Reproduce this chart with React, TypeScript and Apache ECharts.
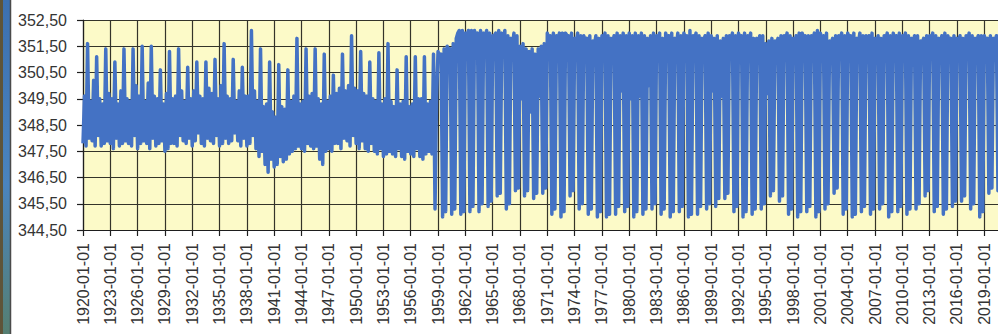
import { useEffect, useRef } from "react";
import * as echarts from "echarts";

// Lake level in m a.s.l., six readings per year (Jan, Mar, May, Jul, Sep, Nov).
const level1920s = [
  347.8, 349.6, 347.7, 351.6, 348.0, 349.4,
  347.9, 350.2, 347.7, 351.1, 348.1, 349.5,
  347.7, 349.3, 347.8, 351.4, 347.9, 349.7,
  347.8, 349.5, 347.6, 350.9, 348.0, 349.3,
  347.7, 349.8, 347.8, 351.4, 347.9, 349.5,
  347.8, 349.4, 347.7, 351.4, 348.1, 350.0,
  347.6, 349.6, 347.8, 351.5, 347.9, 349.4,
  347.8, 350.1, 347.6, 351.5, 348.0, 349.6,
  347.7, 349.5, 347.8, 350.6, 347.9, 349.3,
  347.5, 349.7, 347.6, 351.3, 347.8, 349.5,
];
const level1930s = [
  347.8, 349.6, 347.7, 351.4, 348.1, 349.8,
  347.9, 349.4, 347.8, 350.7, 348.0, 349.5,
  347.7, 349.8, 347.9, 350.9, 348.2, 349.6,
  347.8, 349.5, 347.7, 350.9, 348.0, 349.9,
  347.9, 349.7, 347.8, 351.0, 348.1, 349.5,
  347.7, 350.0, 347.8, 351.6, 348.0, 349.6,
  347.8, 349.5, 347.9, 351.0, 348.2, 349.4,
  347.9, 349.8, 347.7, 350.7, 348.0, 349.6,
  347.7, 349.6, 347.8, 352.1, 348.1, 349.8,
  347.6, 349.4, 347.3, 351.4, 347.5, 349.2,
];
const level1940s = [
  347.0, 349.3, 346.7, 350.9, 347.2, 349.0,
  346.9, 348.8, 347.0, 350.8, 347.3, 349.2,
  347.1, 349.1, 347.2, 350.6, 347.4, 349.4,
  347.5, 349.6, 347.6, 351.8, 347.7, 349.3,
  347.6, 349.4, 347.5, 351.4, 347.8, 349.6,
  347.7, 349.7, 347.6, 351.4, 347.7, 349.5,
  347.2, 349.3, 347.0, 351.2, 347.5, 349.4,
  347.6, 349.6, 347.5, 350.4, 347.8, 349.7,
  347.8, 349.9, 347.6, 351.2, 348.0, 349.8,
  347.9, 350.0, 347.7, 351.9, 348.1, 349.9,
];
const level1950s = [
  347.8, 349.8, 347.6, 351.3, 347.9, 349.7,
  347.6, 349.6, 347.5, 350.9, 347.8, 349.5,
  347.5, 349.4, 347.4, 351.25, 347.6, 349.3,
  347.3, 349.5, 347.4, 351.6, 347.5, 349.4,
  347.4, 349.2, 347.3, 350.6, 347.6, 349.3,
  347.3, 349.4, 347.2, 351.1, 347.5, 349.2,
  347.4, 349.3, 347.3, 351.1, 347.6, 349.5,
  347.3, 349.5, 347.2, 351.1, 347.4, 349.3,
  347.5, 349.4, 347.4, 351.2, 345.3, 349.6,
  351.3, 351.0, 351.2, 345.0, 351.4, 345.2,
];
const level1960s = [
  351.5, 351.3, 351.4, 345.1, 351.6, 345.3,
  351.8, 352.0, 352.1, 345.1, 352.1, 345.2,
  352.0, 351.9, 352.1, 345.2, 352.1, 345.4,
  352.1, 351.8, 352.0, 345.2, 352.1, 345.5,
  352.0, 351.7, 352.1, 345.4, 352.0, 345.6,
  351.9, 351.9, 352.0, 345.8, 352.1, 345.9,
  352.0, 351.6, 352.1, 345.3, 351.9, 345.5,
  351.8, 351.5, 352.0, 346.0, 351.9, 346.1,
  351.5, 349.5, 351.6, 345.8, 351.4, 346.0,
  351.3, 349.0, 351.4, 345.7, 351.2, 345.9,
];
const level1970s = [
  351.4, 349.6, 351.5, 345.9, 351.6, 346.1,
  352.0, 351.8, 351.9, 345.1, 352.0, 345.3,
  351.9, 351.7, 352.0, 345.0, 352.0, 345.2,
  352.0, 351.9, 351.9, 345.8, 352.0, 346.0,
  351.8, 351.6, 352.0, 345.3, 351.9, 345.5,
  351.9, 351.7, 351.8, 345.1, 351.9, 345.3,
  351.7, 351.5, 351.9, 345.0, 351.8, 345.2,
  351.9, 351.8, 352.0, 345.0, 351.9, 345.1,
  351.8, 351.6, 351.9, 345.1, 352.0, 345.4,
  351.9, 349.8, 352.0, 345.2, 351.9, 345.4,
];
const level1980s = [
  352.0, 349.5, 351.9, 345.0, 352.0, 345.2,
  351.9, 349.6, 352.0, 345.1, 351.9, 345.3,
  351.8, 350.0, 351.9, 345.3, 352.0, 345.5,
  351.9, 351.6, 352.0, 345.1, 351.8, 345.3,
  352.0, 351.7, 351.9, 345.0, 352.0, 345.2,
  351.8, 351.5, 352.0, 345.2, 351.9, 345.4,
  352.0, 351.8, 351.9, 345.0, 352.1, 345.1,
  351.9, 351.6, 352.0, 345.1, 351.9, 345.4,
  351.8, 351.7, 351.9, 345.3, 352.0, 345.5,
  351.9, 349.8, 351.8, 345.4, 351.9, 345.7,
];
const level1990s = [
  351.7, 349.6, 351.8, 345.7, 351.9, 345.9,
  351.9, 351.7, 352.0, 345.2, 351.9, 345.4,
  352.0, 351.8, 351.9, 345.0, 352.0, 345.2,
  351.9, 351.6, 352.0, 345.1, 351.8, 345.3,
  351.8, 351.5, 351.9, 345.3, 351.9, 345.5,
  351.6, 349.7, 351.7, 345.8, 351.8, 346.0,
  351.7, 351.4, 351.8, 345.6, 351.9, 345.8,
  351.9, 351.7, 352.0, 345.1, 351.9, 345.3,
  351.8, 351.6, 351.9, 345.0, 352.0, 345.2,
  352.0, 351.8, 351.9, 345.2, 351.9, 345.4,
];
const level2000s = [
  351.9, 351.7, 352.0, 345.0, 352.1, 345.2,
  352.0, 351.5, 351.9, 345.3, 352.0, 345.5,
  351.7, 351.4, 351.8, 345.9, 351.9, 346.1,
  351.9, 351.7, 352.0, 345.1, 351.9, 345.3,
  352.0, 351.8, 351.9, 345.0, 352.0, 345.1,
  351.8, 351.6, 352.0, 345.2, 351.9, 345.4,
  351.9, 351.7, 351.9, 345.1, 352.0, 345.3,
  351.8, 351.5, 351.9, 345.3, 351.8, 345.5,
  351.9, 351.7, 352.0, 345.0, 351.9, 345.2,
  352.0, 351.6, 351.9, 345.2, 352.0, 345.4,
];
const level2010s = [
  351.9, 351.8, 352.0, 345.1, 351.9, 345.3,
  351.8, 351.5, 351.9, 345.3, 351.9, 345.5,
  351.7, 351.6, 351.8, 345.8, 351.9, 346.0,
  351.9, 351.7, 352.0, 345.2, 351.9, 345.4,
  351.8, 351.6, 351.9, 345.1, 352.0, 345.3,
  351.9, 351.5, 351.8, 345.4, 351.9, 345.6,
  351.8, 351.7, 351.9, 345.6, 351.8, 345.8,
  351.9, 351.6, 352.0, 345.3, 351.9, 345.5,
  351.8, 351.7, 351.9, 345.0, 351.9, 345.2,
  351.9, 351.6, 351.8, 345.9, 351.9, 346.1,
];
const level2020 = [351.8, 351.7, 351.9, 346.0, 351.8, 346.2];

const levels = [
  ...level1920s, ...level1930s, ...level1940s, ...level1950s, ...level1960s,
  ...level1970s, ...level1980s, ...level1990s, ...level2000s, ...level2010s, ...level2020,
];

const firstYear = 1920;
const readingsPerYear = 6;
const labelEveryYears = 3;

const dates = levels.map((_, i) => {
  const year = firstYear + Math.floor(i / readingsPerYear);
  const month = 1 + 2 * (i % readingsPerYear);
  return `${year}-${String(month).padStart(2, "0")}-01`;
});

const yMin = 344.5;
const yMax = 352.5;
const yStep = 1;

const FONT = "'Liberation Sans', Arial, sans-serif";
const GRID_COLOR = "#34342a";
const TEXT_COLOR = "#343434";

export default function App() {
  const ref = useRef<HTMLDivElement>(null);

  useEffect(() => {
    if (!ref.current) return;
    const chart = echarts.init(ref.current, undefined, { renderer: "svg" });
    const every = labelEveryYears * readingsPerYear - 1;
    chart.setOption({
      animation: false,
      backgroundColor: "#ffffff",
      graphic: [
        { type: "rect", shape: { x: 0, y: 0, width: 3, height: 334 }, style: { fill: "#5e5439" } },
        {
          type: "rect",
          shape: { x: 3, y: 0, width: 7, height: 334 },
          style: {
            fill: new echarts.graphic.LinearGradient(0, 0, 0, 1, [
              { offset: 0, color: "#3c70b0" },
              { offset: 0.55, color: "#4a84be" },
              { offset: 1, color: "#557f72" },
            ]),
          },
        },
        { type: "line", shape: { x1: 10.5, y1: 0, x2: 10.5, y2: 334 }, style: { stroke: "#4a4a4a", lineWidth: 1.5 } },
      ],
      grid: {
        left: 83,
        right: 11,
        top: 20,
        bottom: 104,
        show: true,
        backgroundColor: "#fcfac8",
        borderWidth: 0,
      },
      xAxis: {
        type: "category",
        data: dates,
        boundaryGap: false,
        axisLine: { show: true, lineStyle: { color: "#1e1e1e", width: 1.2 } },
        axisTick: { show: true, interval: every, length: 6, lineStyle: { color: "#1e1e1e", width: 1.2 } },
        axisLabel: {
          interval: every,
          rotate: 90,
          margin: 13,
          fontSize: 16,
          fontFamily: FONT,
          color: TEXT_COLOR,
        },
        splitLine: { show: true, interval: every, lineStyle: { color: GRID_COLOR, width: 1.2 } },
      },
      yAxis: {
        type: "value",
        min: yMin,
        max: yMax,
        interval: yStep,
        axisLine: { show: true, lineStyle: { color: "#1e1e1e", width: 1.2 } },
        axisTick: { show: true, length: 6, lineStyle: { color: "#1e1e1e", width: 1.2 } },
        axisLabel: {
          margin: 16,
          fontSize: 16,
          fontFamily: FONT,
          color: TEXT_COLOR,
          formatter: (v: number) => v.toFixed(2).replace(".", ","),
        },
        splitLine: { show: true, lineStyle: { color: GRID_COLOR, width: 1.2 } },
      },
      series: [
        {
          type: "line",
          data: levels,
          showSymbol: false,
          symbol: "none",
          lineStyle: { color: "#4472c4", width: 3.5, join: "round" },
          itemStyle: { color: "#4472c4" },
        },
      ],
    });
    return () => chart.dispose();
  }, []);

  return (
    <div
      style={{
        position: "fixed",
        left: 0,
        top: 0,
        width: 998,
        height: 334,
        overflow: "hidden",
        background: "#ffffff",
      }}
    >
      <div ref={ref} style={{ width: 1012, height: 334 }} />
    </div>
  );
}
